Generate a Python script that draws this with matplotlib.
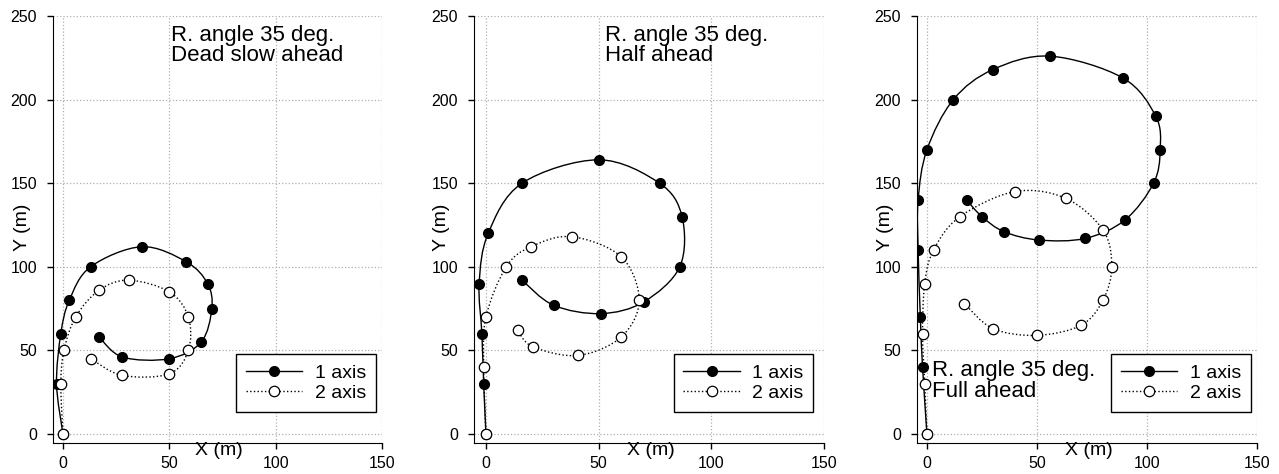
import matplotlib
matplotlib.use("Agg")
import matplotlib.pyplot as plt
from matplotlib.path import Path
from matplotlib.patches import PathPatch
from matplotlib.lines import Line2D

plt.rcParams["font.family"] = ["Liberation Sans", "DejaVu Sans"]

# Trajectories (X, Y in metres)
dead_x1 = [0, -3, -1, 3, 13, 37, 58, 68, 70, 65, 50, 28, 17]
dead_y1 = [0, 30, 60, 80, 100, 112, 103, 90, 75, 55, 45, 46, 58]
dead_x2 = [0, -1, 0.5, 6, 17, 31, 50, 59, 59, 50, 28, 13]
dead_y2 = [0, 30, 50, 70, 86, 92, 85, 70, 50, 36, 35, 45]

half_x1 = [0, -1, -1.8, -3, 1, 16, 50, 77, 87, 86, 70, 51, 30, 16]
half_y1 = [0, 30, 60, 90, 120, 150, 164, 150, 130, 100, 79, 72, 77, 92]
half_x2 = [0, -1, 0, 9, 20, 38, 60, 68, 60, 41, 21, 14]
half_y2 = [0, 40, 70, 100, 112, 118, 106, 80, 58, 47, 52, 62]

full_x1 = [0, -2, -3, -4, -4, 0, 12, 30, 56, 89, 104, 106, 103, 90, 72, 51, 35, 25, 18]
full_y1 = [0, 40, 70, 110, 140, 170, 200, 218, 226, 213, 190, 170, 150, 128, 117, 116, 121, 130, 140]
full_x2 = [0, -1, -2, -1, 3, 15, 40, 63, 80, 84, 80, 70, 50, 30, 17]
full_y2 = [0, 30, 60, 90, 110, 130, 145, 141, 122, 100, 80, 65, 59, 63, 78]

titles = ["R. angle 35 deg.\nDead slow ahead",
          "R. angle 35 deg.\nHalf ahead",
          "R. angle 35 deg.\nFull ahead"]

panels = [
    ([0.0414, 0.0654, 0.2572, 0.9008], -4.7, dead_x1, dead_y1, dead_x2, dead_y2, (51, 232.5), 0.769),
    ([0.3706, 0.0654, 0.2737, 0.9008], -5.3, half_x1, half_y1, half_x2, half_y2, (53, 232.5), 0.770),
    ([0.7170, 0.0654, 0.2658, 0.9008], -4.5, full_x1, full_y1, full_x2, full_y2, (2.4, 31.7), 0.776),
]


def smooth_path(xs, ys):
    # Catmull-Rom curve through the points, drawn as cubic Bezier segments
    pts = list(zip(xs, ys))
    n = len(pts)
    verts = [pts[0]]
    codes = [Path.MOVETO]
    for k in range(n - 1):
        p0 = pts[max(k - 1, 0)]
        p1 = pts[k]
        p2 = pts[k + 1]
        p3 = pts[min(k + 2, n - 1)]
        c1 = (p1[0] + (p2[0] - p0[0]) / 6, p1[1] + (p2[1] - p0[1]) / 6)
        c2 = (p2[0] - (p3[0] - p1[0]) / 6, p2[1] - (p3[1] - p1[1]) / 6)
        verts += [c1, c2, p2]
        codes += [Path.CURVE4] * 3
    return Path(verts, codes)


fig = plt.figure(figsize=(12.79, 4.74), dpi=100)

for i, (pos, xmin, x1, y1, x2, y2, tpos, legx) in enumerate(panels):
    ax = fig.add_axes(pos)

    ax.add_patch(PathPatch(smooth_path(x1, y1), fill=False, ec="black",
                           lw=1, ls="-", zorder=3))
    ax.add_patch(PathPatch(smooth_path(x2, y2), fill=False, ec="black",
                           lw=1, ls=":", zorder=3))
    ax.plot(x1, y1, ls="none", marker="o", ms=7, mfc="black", mec="black",
            zorder=4)
    ax.plot(x2, y2, ls="none", marker="o", ms=7.5, mfc="white", mec="black",
            mew=0.9, zorder=5)

    ax.set_xlim(xmin, 150)
    ax.set_ylim(-5.4, 250)
    ax.set_xticks([0, 50, 100, 150])
    ax.set_yticks([0, 50, 100, 150, 200, 250])
    ax.grid(True, ls=":", color="#b0b0b0", lw=0.9)
    ax.set_axisbelow(True)
    for s in ["top", "right"]:
        ax.spines[s].set_visible(False)
    ax.tick_params(direction="out", length=4.5, width=1, labelsize=11.5)
    ax.tick_params(axis="y", pad=7)
    ax.tick_params(axis="x", pad=5)

    ax.text(0.505, -0.018, "X (m)", transform=ax.transAxes, fontsize=14,
            ha="center", va="center")
    ax.text(-0.092, 0.506, "Y (m)", transform=ax.transAxes, fontsize=14,
            ha="center", va="center", rotation=90)

    tx, ty = tpos
    ax.text(tx, ty, titles[i], fontsize=16, ha="left", va="center",
            linespacing=0.95)

    h1 = Line2D([], [], color="black", lw=1, ls="-", marker="o", ms=7,
                mfc="black", mec="black")
    h2 = Line2D([], [], color="black", lw=1, ls=":", marker="o", ms=7.5,
                mfc="white", mec="black", mew=0.9)
    leg = ax.legend([h1, h2], ["1 axis", "2 axis"], loc="center",
                    bbox_to_anchor=(legx, 0.1405), fontsize=14,
                    frameon=True, fancybox=False, handlelength=2.9,
                    handletextpad=0.65, labelspacing=0.15, borderpad=0.5)
    leg.get_frame().set_edgecolor("black")
    leg.get_frame().set_linewidth(1)
    leg.get_frame().set_alpha(1)

fig.savefig("out.png", dpi=100)
